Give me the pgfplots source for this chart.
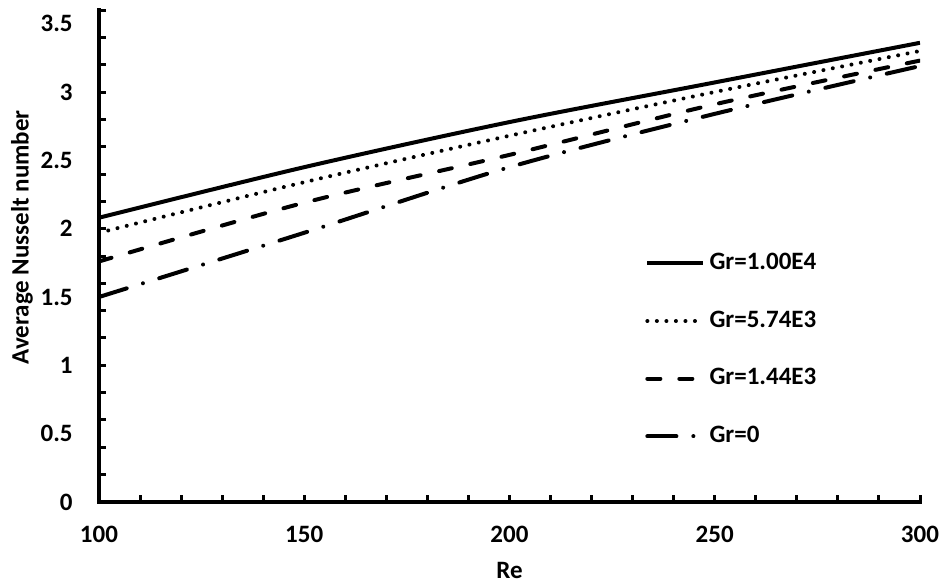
\documentclass[border=0pt]{standalone}
\usepackage{fontspec}
\setmainfont{Carlito}
\usepackage{pgfplots}
\pgfplotsset{compat=1.18}
\begin{document}
\begin{tikzpicture}
\begin{axis}[
  scale only axis, width=410.5pt, height=246pt,
  xmin=100, xmax=300, ymin=0, ymax=3.6,
  axis lines*=left,
  axis line style={line width=1.6pt, line cap=rect},
  xtick={100,150,200,250,300},
  ytick={0,0.5,1,1.5,2,2.5,3,3.5},
  minor xtick={110,120,130,140,150,160,170,180,190,200,210,220,230,240,250,260,270,280,290,300},
  minor ytick={0.2,0.4,0.6,0.8,1.0,1.2,1.4,1.6,1.8,2.0,2.2,2.4,2.6,2.8,3.0,3.2,3.4,3.6},
  major tick length=0pt, minor tick length=3.5pt,
  tick align=inside,
  tick style={line width=1.5pt, black},
  font=\fontsize{12.5}{15}\selectfont\bfseries,
  ticklabel style={font=\fontsize{12.5}{15}\selectfont\bfseries},
  /pgf/number format/assume math mode=true,
  /pgf/number format/fixed,
  yticklabel style={inner sep=0pt, xshift=-13pt},
  xticklabel style={inner sep=0pt, anchor=base, yshift=-20.5pt},
  xlabel={Re}, ylabel={Average Nusselt number},
  xlabel style={at={(axis description cs:0.5,-0.1565)}, anchor=base},
  ylabel style={at={(axis description cs:-0.0938,0.538)}, anchor=center},
  legend cell align=left,
  legend style={at={(axis description cs:0.665,0.51)}, anchor=north west,
    draw=none, fill=none, inner sep=0pt, row sep=16.8pt,
    nodes={inner sep=0pt, text height=9pt, text depth=3pt, font=\fontsize{12.5}{15}\selectfont\bfseries}},
  legend image code/.code={\draw[#1] (0pt,0pt) -- (28pt,0pt);},
]
\addplot[black, line width=2pt, smooth] coordinates {(100,2.08) (150,2.45) (200,2.78) (250,3.07) (300,3.36)};
\addlegendentry{\,Gr=1.00E4}
\addplot[black, line width=2pt, smooth, line cap=round, dash pattern=on 0.01pt off 4.75pt] coordinates {(100,1.97) (150,2.34) (200,2.68) (250,3.00) (300,3.30)};
\addlegendentry{\,Gr=5.74E3}
\addplot[black, line width=2pt, smooth, line cap=round, dash pattern=on 6.5pt off 9.5pt] coordinates {(100,1.76) (150,2.19) (200,2.54) (250,2.91) (300,3.23)};
\addlegendentry{\,Gr=1.44E3}
\addplot[black, line width=2pt, smooth, line cap=round, dash pattern=on 14.5pt off 8.5pt on 0.01pt off 8.5pt] coordinates {(100,1.50) (150,1.97) (200,2.45) (250,2.84) (300,3.19)};
\addlegendentry{\,Gr=0}
\end{axis}
\pgfresetboundingbox
\useasboundingbox (current axis.south west) ++(-49.5pt,-40.5pt) rectangle ++(471.5pt,291.5pt);
\end{tikzpicture}
\end{document}
